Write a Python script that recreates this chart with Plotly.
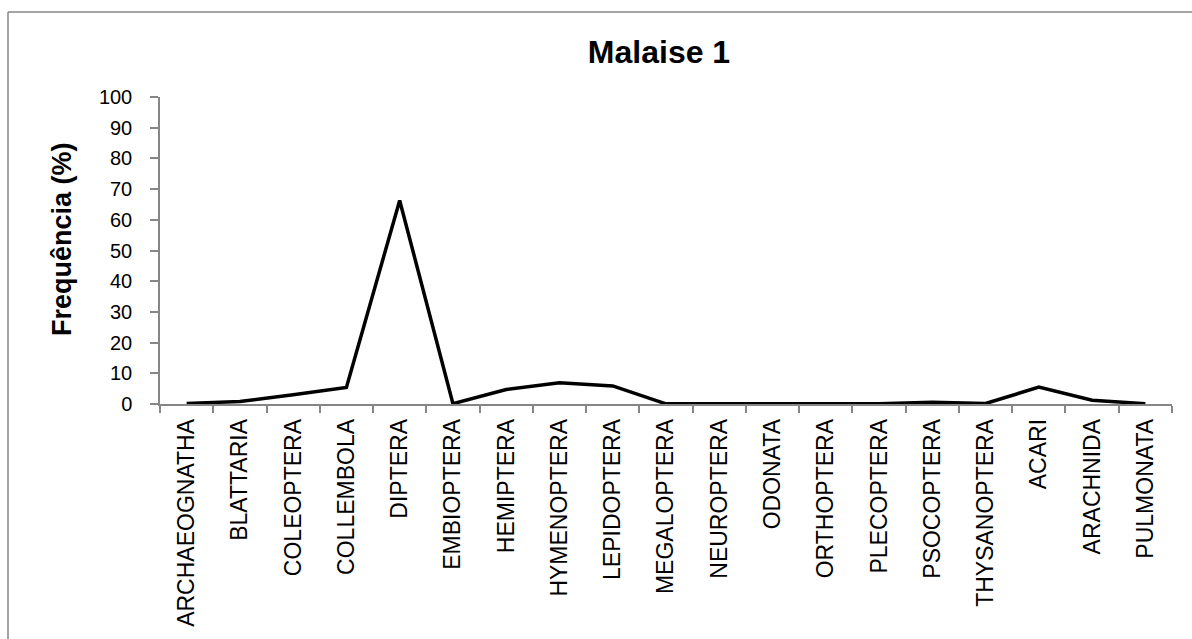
import plotly.graph_objects as go

categories = ["ARCHAEOGNATHA", "BLATTARIA", "COLEOPTERA", "COLLEMBOLA", "DIPTERA",
              "EMBIOPTERA", "HEMIPTERA", "HYMENOPTERA", "LEPIDOPTERA", "MEGALOPTERA",
              "NEUROPTERA", "ODONATA", "ORTHOPTERA", "PLECOPTERA", "PSOCOPTERA",
              "THYSANOPTERA", "ACARI", "ARACHNIDA", "PULMONATA"]
frequencia = [0.2, 0.8, 3.0, 5.4, 66.3,
              0.1, 4.7, 6.9, 5.9, 0.05,
              0.05, 0.05, 0.05, 0.1, 0.6,
              0.15, 5.5, 1.2, 0.1]
y_ticks = list(range(0, 101, 10))

FONT = "Liberation Sans, Arial, sans-serif"
AXIS_GRAY = "#868686"

W, H = 1192, 639
L, R, T, B = 160, 20, 97, 235
PW, PH = W - L - R, H - T - B

fig = go.Figure()
fig.add_trace(go.Scatter(
    x=categories, y=frequencia, mode="lines",
    line=dict(color="black", width=3.5),
    showlegend=False, hoverinfo="x+y",
))

frame_left = (8 - L) / PW
frame_top = (PH + T - 12) / PH
frame_bottom = (PH - (H + 20 - T)) / PH
frame_right = (W + 20 - L) / PW

fig.update_layout(
    width=W, height=H,
    margin=dict(l=L, r=R, t=T, b=B),
    paper_bgcolor="white", plot_bgcolor="white",
    font=dict(family=FONT, color="black"),
    title=dict(text="<b>Malaise 1</b>", xref="container", x=659 / W, xanchor="center",
               yref="container", y=1 - 52 / H, yanchor="middle",
               font=dict(family=FONT, size=32, color="black")),
    xaxis=dict(
        type="category", range=[-0.5, len(categories) - 0.5],
        tickson="boundaries", ticks="outside", ticklen=7, tickcolor=AXIS_GRAY,
        tickwidth=1.5, showline=True, linecolor=AXIS_GRAY, linewidth=1.5,
        showgrid=False, zeroline=False, tickangle=-90, ticklabelstandoff=4,
        tickfont=dict(family=FONT, size=23, color="black"),
    ),
    yaxis=dict(
        range=[0, 100], tickvals=y_ticks, ticks="outside", ticklen=8,
        tickcolor=AXIS_GRAY, tickwidth=1.5, showline=True, linecolor=AXIS_GRAY,
        linewidth=1.5, showgrid=False, zeroline=False, ticklabelstandoff=14,
        tickfont=dict(family=FONT, size=20, color="black"),
    ),
    annotations=[dict(
        text="<b>Frequência (%)</b>", textangle=-90, showarrow=False,
        xref="paper", yref="paper", x=(62 - L) / PW, y=(404 - 239) / PH,
        xanchor="center", yanchor="middle",
        font=dict(family=FONT, size=27, color="black"),
    )],
    shapes=[
        dict(type="line", xref="paper", yref="paper",
             x0=frame_left, x1=frame_left, y0=frame_bottom, y1=frame_top,
             line=dict(color=AXIS_GRAY, width=1.5), layer="below"),
        dict(type="line", xref="paper", yref="paper",
             x0=frame_left, x1=frame_right, y0=frame_top, y1=frame_top,
             line=dict(color=AXIS_GRAY, width=1.5), layer="below"),
    ],
)

fig.write_html(
    "out.html",
    config={"displayModeBar": False},
    post_script="document.body.style.margin='0';"
                "document.documentElement.style.overflow='hidden';"
                "document.body.style.overflow='hidden';",
)
